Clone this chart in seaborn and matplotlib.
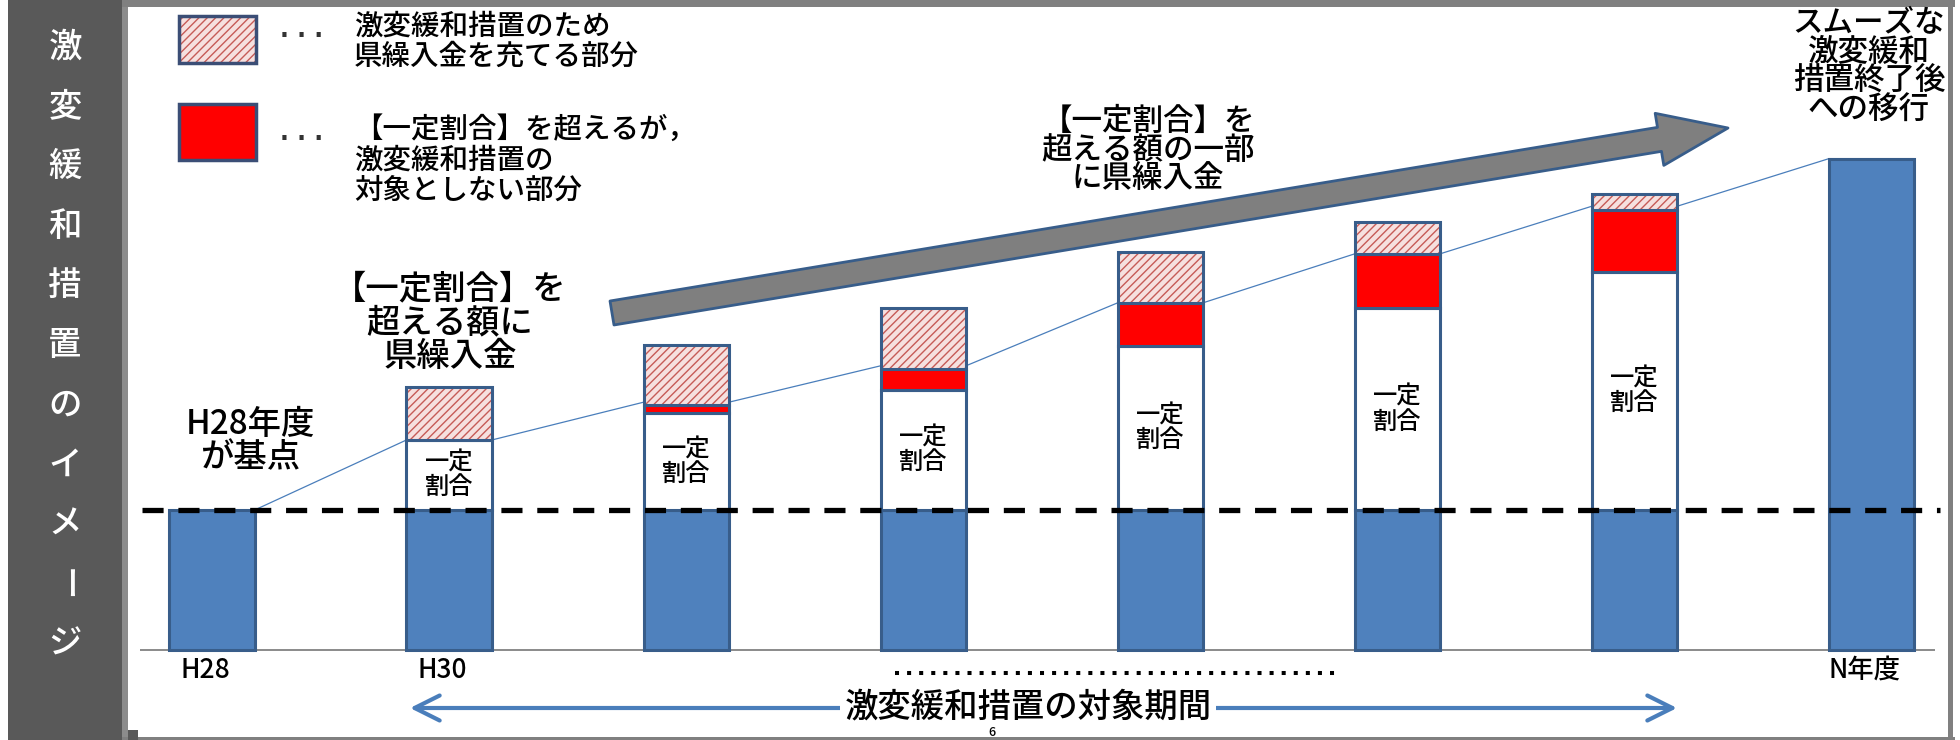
import numpy as np
import pandas as pd
import matplotlib
matplotlib.use("Agg")
import matplotlib.pyplot as plt
from matplotlib.patches import Rectangle
import seaborn as sns

# ---------------- data ----------------
periods = ["H28", "H30", "", "", "", "", "", "N年度"]
base = [1.00, 1.00, 1.00, 1.00, 1.00, 1.00, 1.00, 3.51]          # blue part
fixed_share = [0.00, 0.50, 0.69, 0.86, 1.17, 1.44, 1.70, 0.00]   # 一定割合
excess_unfunded = [0.00, 0.00, 0.06, 0.15, 0.31, 0.39, 0.44, 0.00]  # red part
pref_transfer = [0.00, 0.38, 0.43, 0.43, 0.36, 0.23, 0.12, 0.00]   # hatched part
trend = [1.00, 1.50, 1.77, 2.03, 2.48, 2.83, 3.17, 3.51]
baseline_level = 1.00

side_title = "激変緩和措置のイメージ"
legend_hatch = "激変緩和措置のため\n県繰入金を充てる部分"
legend_red = "【一定割合】を超えるが，\n激変緩和措置の\n対象としない部分"
note_first = "【一定割合】を\n超える額に\n県繰入金"
note_base = "H28年度\nが基点"
note_trend = "【一定割合】を\n超える額の一部\nに県繰入金"
note_end = "スムーズな\n激変緩和\n措置終了後\nへの移行"
inner_label = "一定\n割合"
period_label = "激変緩和措置の対象期間"
page_no = "6"

# ---------------- style ----------------
BLUE = "#4f81bd"
EDGE = "#385d8a"
RED = "#ff0000"
PINK = "#f6e0df"
HATCH_LINE = "#c65b57"
ARROW_BLUE = "#4a7ebb"
PANEL = "#595959"
FRAME = "#808080"
BAR_W = 0.36

sns.set_theme(style="white")
plt.rcParams["font.family"] = ["Noto Sans CJK JP", "DejaVu Sans"]
plt.rcParams["font.weight"] = "medium"
plt.rcParams["hatch.linewidth"] = 1.0

W, H = 1960, 740
fig = plt.figure(figsize=(W / 100, H / 100), dpi=100)
fig.patch.set_facecolor("white")
ax = fig.add_axes([0, 0, 1, 1])
ax.set_facecolor("white")

# pixel -> axes-fraction helpers for the page decorations
def fx(px):
    return px / W

def fy(py):
    return 1 - py / H

# data layout: bar i centred at 212 + 237.1*i px, baseline at 650 px, 140 px per unit
X0, STEP, Y0, UNIT = 212, 237.1, 650, 140

def dx(px):
    return (px - X0) / STEP

def dy(py):
    return (Y0 - py) / UNIT

pos = np.arange(len(periods))
df = pd.DataFrame({
    "pos": pos,
    "base": base,
    "fixed": fixed_share,
    "red": excess_unfunded,
    "hatch": pref_transfer,
})
df["fixed_bottom"] = df["base"]
df["red_bottom"] = df["base"] + df["fixed"]
df["hatch_bottom"] = df["red_bottom"] + df["red"]


def stacked_layer(col, bottom_col, **style):
    sub = df[df[col] > 0]
    sns.barplot(x=sub["pos"].to_numpy(), y=sub[col].to_numpy(),
                bottom=sub[bottom_col].to_numpy() if bottom_col else None,
                native_scale=True, width=BAR_W, saturation=1, errorbar=None,
                ax=ax, **style)


# trend line linking the bars (hidden behind them)
tx, ty = [], []
for p, t in zip(pos, trend):
    tx += [p - BAR_W / 2, p + BAR_W / 2]
    ty += [t, t]
ax.plot(tx, ty, color=ARROW_BLUE, lw=0.9, zorder=1)

stacked_layer("base", None, color=BLUE, edgecolor=EDGE, linewidth=2.2, zorder=3)
stacked_layer("fixed", "fixed_bottom", color="white", edgecolor=EDGE, linewidth=2.2, zorder=3)
stacked_layer("red", "red_bottom", color=RED, edgecolor=EDGE, linewidth=2.2, zorder=3)
stacked_layer("hatch", "hatch_bottom", color=PINK, edgecolor=HATCH_LINE, hatch="////",
              linewidth=0, zorder=3)
stacked_layer("hatch", "hatch_bottom", color=EDGE, fill=False, linewidth=2.2, zorder=4)

# reference level of H28 and the x-axis baseline
ax.hlines(baseline_level, dx(142), dx(1940), colors="black", lw=3.8,
          linestyles=(0, (4.0, 2.8)), zorder=6)
ax.hlines(0, dx(140), dx(1935), colors="#777777", lw=1.2, zorder=2)

# labels inside the white segments
for p, b, f in zip(pos, base, fixed_share):
    if f > 0:
        ax.text(p, b + f / 2, inner_label, ha="center", va="center",
                fontsize=17.5, linespacing=0.93, color="black", zorder=7)

# period labels under the bars
for p, lab in zip(pos, periods):
    if lab:
        ax.text(p - 0.03, dy(670), lab, ha="center", va="center", fontsize=19,
                color="black")

ax.set_xlim(dx(0), dx(W))
ax.set_ylim(dy(H), dy(0))
ax.axis("off")

# ---------------- page frame ----------------
ax.add_patch(Rectangle((fx(8), 0), fx(122) - fx(8), 1, transform=ax.transAxes,
                       facecolor=PANEL, edgecolor="none", zorder=0))
ax.add_patch(Rectangle((fx(122), 0), fx(6), 1, transform=ax.transAxes,
                       facecolor="#8c8c8c", edgecolor="none", zorder=0))
ax.add_patch(Rectangle((fx(122), fy(7)), fx(1955) - fx(122), fy(0) - fy(7),
                       transform=ax.transAxes, facecolor=FRAME, edgecolor="none", zorder=0))
ax.add_patch(Rectangle((fx(1948), 0), fx(5), 1, transform=ax.transAxes,
                       facecolor=FRAME, edgecolor="none", zorder=0))
ax.add_patch(Rectangle((fx(122), 0), fx(1955) - fx(122), fy(737) - fy(740),
                       transform=ax.transAxes, facecolor=FRAME, edgecolor="none", zorder=0))
ax.add_patch(Rectangle((fx(128), 0), fx(10), fy(730) - fy(740), transform=ax.transAxes,
                       facecolor=PANEL, edgecolor="none", zorder=1))

# vertical title in the side panel
for k, ch in enumerate(side_title):
    ax.text(fx(65), fy(47 + k * 59.7), ch, transform=ax.transAxes, ha="center",
            va="center", fontsize=24, color="white",
            rotation=-90 if ch == "ー" else 0)

# ---------------- key boxes ----------------
ax.add_patch(Rectangle((fx(179), fy(63)), fx(77), fy(16) - fy(63), transform=ax.transAxes,
                       facecolor=PINK, edgecolor=HATCH_LINE, hatch="////", lw=0, zorder=3))
ax.add_patch(Rectangle((fx(179), fy(63)), fx(77), fy(16) - fy(63), transform=ax.transAxes,
                       facecolor="none", edgecolor="#3b4e76", lw=2.5, zorder=4))
ax.add_patch(Rectangle((fx(179), fy(160)), fx(77), fy(104) - fy(160), transform=ax.transAxes,
                       facecolor=RED, edgecolor="#3b4e76", lw=2.5, zorder=4))
for yy in (30, 133):
    ax.text(fx(302), fy(yy), ". . .", transform=ax.transAxes, ha="center", va="center",
            fontsize=17, family="DejaVu Sans", fontweight="bold", color="#333333")
ax.text(fx(354), fy(41), legend_hatch, transform=ax.transAxes, ha="left", va="center",
        fontsize=20.5, linespacing=1.02, color="black")
ax.text(fx(354), fy(160), legend_red, transform=ax.transAxes, ha="left", va="center",
        fontsize=20.5, linespacing=1.07, color="black")

# ---------------- notes ----------------
ax.text(fx(450), fy(323), note_first, transform=ax.transAxes, ha="center", va="center",
        fontsize=24, linespacing=0.96, color="black")
ax.text(fx(250), fy(441), note_base, transform=ax.transAxes, ha="center", va="center",
        fontsize=24, linespacing=0.92, color="black")
ax.text(fx(1148), fy(150), note_trend, transform=ax.transAxes, ha="center", va="center",
        fontsize=22, linespacing=0.9, color="black")
ax.text(fx(1869), fy(67), note_end, transform=ax.transAxes, ha="center", va="center",
        fontsize=22, linespacing=0.92, color="black")

# big grey trend arrow
ax.annotate("", xy=(fx(1728), fy(128)), xytext=(fx(612), fy(313)),
            xycoords="axes fraction", textcoords="axes fraction",
            arrowprops=dict(arrowstyle="simple,head_length=5.0,head_width=3.8,tail_width=1.75",
                            mutation_scale=10, shrinkA=0, shrinkB=0,
                            facecolor="#7f7f7f", edgecolor=EDGE, lw=2.0),
            zorder=5)

# measure period: dotted gap and double arrow
ax.plot([fx(895), fx(1338)], [fy(673), fy(673)], transform=ax.transAxes, color="black",
        lw=2.9, linestyle=(0, (1, 2)), dash_capstyle="butt", solid_capstyle="butt")
ax.annotate("", xy=(fx(410), fy(708)), xytext=(fx(1677), fy(708)),
            xycoords="axes fraction", textcoords="axes fraction",
            arrowprops=dict(arrowstyle="<->,head_length=0.9,head_width=0.45",
                            mutation_scale=20, shrinkA=0, shrinkB=0,
                            color=ARROW_BLUE, lw=3.0))
ax.text(fx(1028), fy(707), period_label, transform=ax.transAxes, ha="center", va="center",
        fontsize=24, color="black", zorder=6,
        bbox=dict(boxstyle="square,pad=0.12", facecolor="white", edgecolor="none"))
ax.text(fx(992), fy(739), page_no, transform=ax.transAxes, ha="center", va="bottom",
        fontsize=9, color="black", zorder=7)

fig.savefig("out.png", dpi=100, facecolor="white")
